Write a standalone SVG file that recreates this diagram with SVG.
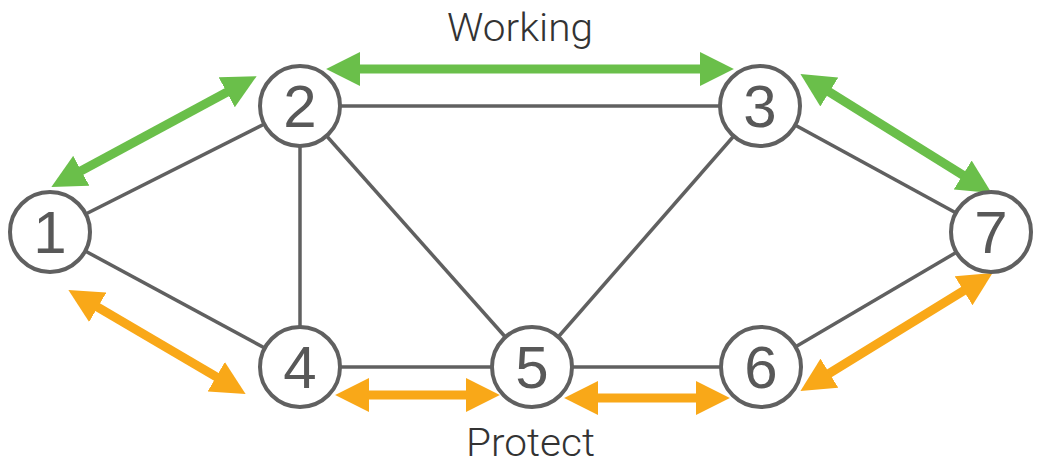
<svg xmlns="http://www.w3.org/2000/svg" width="1041" height="463" viewBox="0 0 1041 463">
<style>
.edge{stroke:#606060;stroke-width:3.5;fill:none}
.node circle{fill:#fff;stroke:#606060;stroke-width:4}
.node text{font-family:"Liberation Sans",Arial,sans-serif;font-size:60px;fill:#585858;text-anchor:middle}
.g{stroke:#6abf4a;stroke-width:9;fill:none;marker-start:url(#hg);marker-end:url(#hg)}
.o{stroke:#f9a818;stroke-width:9;fill:none;marker-start:url(#ho);marker-end:url(#ho)}
.lbl{font-family:Roboto,"Liberation Sans",sans-serif;font-weight:300;font-size:38px;fill:#333}
</style>
<defs>
<marker id="hg" markerUnits="userSpaceOnUse" markerWidth="34" markerHeight="34" viewBox="0 0 32 32" refX="2" refY="16" orient="auto-start-reverse"><path d="M0,0 L32,16 L0,32 z" fill="#6abf4a"/></marker>
<marker id="ho" markerUnits="userSpaceOnUse" markerWidth="34" markerHeight="34" viewBox="0 0 32 32" refX="2" refY="16" orient="auto-start-reverse"><path d="M0,0 L32,16 L0,32 z" fill="#f9a818"/></marker>
</defs>
<g id="connectors">
<line class="edge" x1="50" y1="232" x2="300" y2="106"/>
<line class="edge" x1="50" y1="232" x2="300" y2="367"/>
<line class="edge" x1="300" y1="106" x2="760" y2="106"/>
<line class="edge" x1="300" y1="106" x2="300" y2="367"/>
<line class="edge" x1="300" y1="106" x2="532" y2="367"/>
<line class="edge" x1="760" y1="106" x2="532" y2="367"/>
<line class="edge" x1="760" y1="106" x2="991" y2="232"/>
<line class="edge" x1="300" y1="367" x2="532" y2="367"/>
<line class="edge" x1="532" y1="367" x2="761" y2="367"/>
<line class="edge" x1="761" y1="367" x2="991" y2="232"/>
<line class="g" x1="79.4" y1="171.8" x2="228.6" y2="91.3"/>
<line class="g" x1="358" y1="69" x2="702" y2="69"/>
<line class="g" x1="827.5" y1="90.9" x2="964.5" y2="176.1"/>
<line class="o" x1="95.9" y1="306.2" x2="218.1" y2="377.8"/>
<line class="o" x1="367" y1="395" x2="468" y2="395"/>
<line class="o" x1="596" y1="398" x2="698" y2="398"/>
<line class="o" x1="827.6" y1="374.3" x2="965.4" y2="289.7"/>
</g>
<g id="n1" class="node"><circle cx="50" cy="232" r="40"/><text x="50" y="253">1</text></g>
<g id="n2" class="node"><circle cx="300" cy="106" r="40"/><text x="300" y="127">2</text></g>
<g id="n3" class="node"><circle cx="760" cy="106" r="40"/><text x="760" y="127">3</text></g>
<g id="n4" class="node"><circle cx="300" cy="367" r="40"/><text x="300" y="388">4</text></g>
<g id="n5" class="node"><circle cx="532" cy="367" r="40"/><text x="532" y="388">5</text></g>
<g id="n6" class="node"><circle cx="761" cy="367" r="40"/><text x="761" y="388">6</text></g>
<g id="n7" class="node"><circle cx="991" cy="232" r="40"/><text x="991" y="253">7</text></g>
<text class="lbl" x="447" y="41" textLength="146" lengthAdjust="spacingAndGlyphs">Working</text>
<text class="lbl" x="466" y="456" textLength="129" lengthAdjust="spacingAndGlyphs">Protect</text>
</svg>
